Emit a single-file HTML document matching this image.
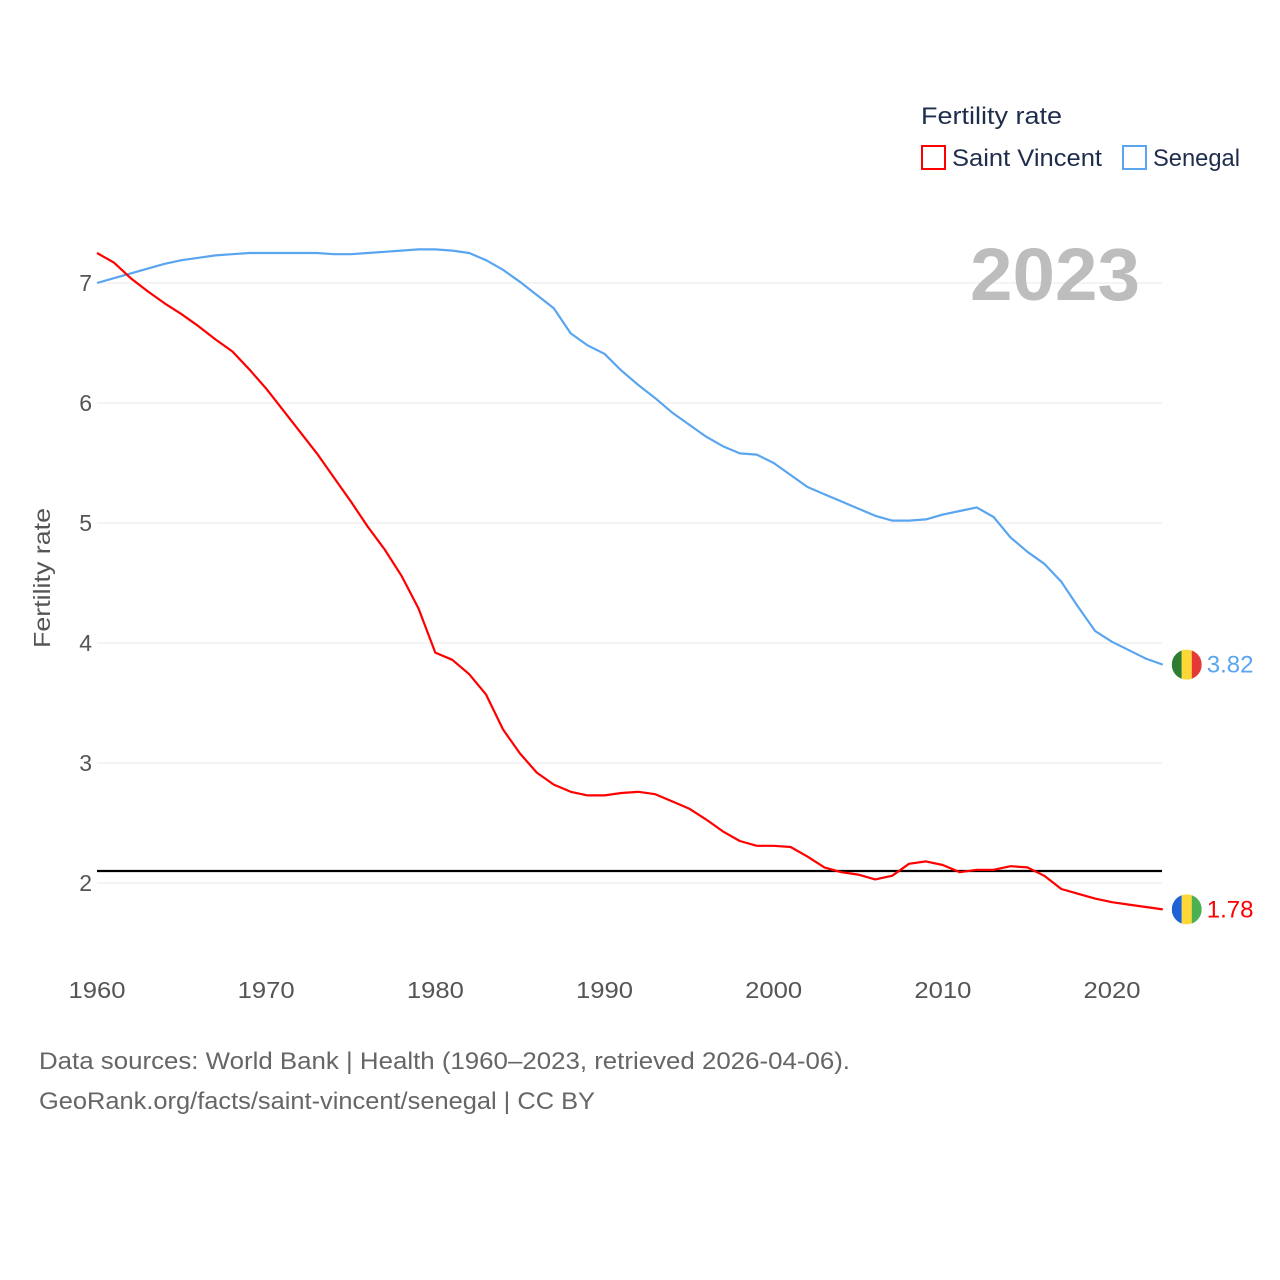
<!DOCTYPE html>
<html><head><meta charset="utf-8">
<style>
html,body{margin:0;padding:0;background:#fff;}
svg{display:block;font-family:"Liberation Sans",sans-serif;}
</style></head>
<body>
<svg id="chart" width="1280" height="1280" viewBox="0 0 1280 1280" xmlns="http://www.w3.org/2000/svg">
  <g id="grid"></g>
  <g id="yticks"></g>
  <g id="xticks"></g>
  <text x="0" y="0" transform="translate(50,578) rotate(-90)" text-anchor="middle" font-size="23" fill="#555" textLength="140" lengthAdjust="spacingAndGlyphs">Fertility rate</text>
  <text x="1140" y="300" text-anchor="end" font-size="74" font-weight="bold" fill="#bdbdbd" textLength="170" lengthAdjust="spacingAndGlyphs">2023</text>
  <g id="series"></g>
  <g>
    <text x="921" y="124" font-size="24" fill="#1f2d4d" textLength="141" lengthAdjust="spacingAndGlyphs">Fertility rate</text>
    <g>
      <rect x="922" y="146" width="23" height="23" fill="none" stroke="#ff0000" stroke-width="2"/>
      <text x="952" y="166" font-size="24" fill="#1f2d4d" textLength="150" lengthAdjust="spacingAndGlyphs">Saint Vincent</text>
    </g>
    <g>
      <rect x="1123" y="146" width="23" height="23" fill="none" stroke="#5aa5ef" stroke-width="2"/>
      <text x="1153" y="166" font-size="24" fill="#1f2d4d" textLength="87" lengthAdjust="spacingAndGlyphs">Senegal</text>
    </g>
  </g>
  <text x="39" y="1069" font-size="24" fill="#666" textLength="811" lengthAdjust="spacingAndGlyphs">Data sources: World Bank | Health (1960–2023, retrieved 2026-04-06).</text>
  <text x="39" y="1109" font-size="24" fill="#666" textLength="556" lengthAdjust="spacingAndGlyphs">GeoRank.org/facts/saint-vincent/senegal | CC BY</text>
</svg>
<script>
const years = [];
for (let y = 1960; y <= 2023; y++) years.push(y);
const saintVincent = [7.25,7.17,7.04,6.93,6.83,6.74,6.64,6.53,6.43,6.28,6.12,5.94,5.76,5.58,5.38,5.18,4.97,4.78,4.56,4.29,3.92,3.86,3.74,3.57,3.28,3.08,2.92,2.82,2.76,2.73,2.73,2.75,2.76,2.74,2.68,2.62,2.53,2.43,2.35,2.31,2.31,2.30,2.22,2.13,2.09,2.07,2.03,2.06,2.16,2.18,2.15,2.09,2.11,2.11,2.14,2.13,2.06,1.95,1.91,1.87,1.84,1.82,1.80,1.78];
const senegal = [7.00,7.04,7.08,7.12,7.16,7.19,7.21,7.23,7.24,7.25,7.25,7.25,7.25,7.25,7.24,7.24,7.25,7.26,7.27,7.28,7.28,7.27,7.25,7.19,7.11,7.01,6.90,6.79,6.58,6.48,6.41,6.27,6.15,6.04,5.92,5.82,5.72,5.64,5.58,5.57,5.50,5.40,5.30,5.24,5.18,5.12,5.06,5.02,5.02,5.03,5.07,5.10,5.13,5.05,4.88,4.76,4.66,4.51,4.30,4.10,4.01,3.94,3.87,3.82];
const yTickValues = [2,3,4,5,6,7];
const xTickValues = [1960,1970,1980,1990,2000,2010,2020];
const replacementLevel = [2.1];

const NS = "http://www.w3.org/2000/svg";
function xs(yr){ return 97 + (yr - 1960) * (1015/60); }
function ys(v){ return 283 + (7 - v) * 120; }
function mk(tag, attrs, parent){ const e=document.createElementNS(NS,tag); for(const k in attrs) e.setAttribute(k,attrs[k]); parent.appendChild(e); return e; }

const grid=document.getElementById('grid'), yt=document.getElementById('yticks'), xt=document.getElementById('xticks'), ser=document.getElementById('series');
yTickValues.forEach(v=>{
  const l=mk('line',{x1:97,x2:1162,y1:ys(v),y2:ys(v),stroke:'#e8e8e8','stroke-width':1},grid);
  
  
  const t=mk('text',{x:92,y:ys(v)+8,'text-anchor':'end','font-size':23,fill:'#555'},yt);
  t.textContent=v;
  
  
});
xTickValues.forEach(v=>{
  const t=mk('text',{x:xs(v),y:998,'text-anchor':'middle','font-size':23,fill:'#555',textLength:57,lengthAdjust:'spacingAndGlyphs'},xt);
  t.textContent=v;
  
  
});
const ref=mk('line',{x1:97,x2:1162,y1:ys(replacementLevel[0]),y2:ys(replacementLevel[0]),stroke:'#000','stroke-width':2.2},ser);



function drawSeries(vals,color,name,flag){
  const d=vals.map((v,i)=>(i?'L':'M')+xs(years[i]).toFixed(1)+','+ys(v).toFixed(1)).join(' ');
  const p=mk('path',{d:d,fill:'none',stroke:color,'stroke-width':2.2,'stroke-linejoin':'round'},ser);
  
  
  const last=vals[vals.length-1], lx=xs(years[years.length-1])+24, ly=ys(last);
  const g=mk('g',{},ser);
  
  
  const cpth=mk('clipPath',{id:'c-'+name},g);
  mk('circle',{cx:lx,cy:ly,r:15},cpth);
  const fg=mk('g',{'clip-path':'url(#c-'+name+')'},g);
  mk('rect',{x:lx-15,y:ly-15,width:10,height:30,fill:flag[0]},fg);
  mk('rect',{x:lx-5,y:ly-15,width:10,height:30,fill:flag[1]},fg);
  mk('rect',{x:lx+5,y:ly-15,width:10,height:30,fill:flag[2]},fg);
  const lab=mk('text',{x:lx+20,y:ly+8,'font-size':24,fill:color},ser);
  lab.textContent=last.toFixed(2);
  
  
}
drawSeries(senegal,'#5aa5ef','senegal',['#2e7d32','#fdd835','#e53935']);
drawSeries(saintVincent,'#ff0000','saint-vincent',['#1e63d6','#fdd835','#4caf50']);
</script>
</body></html>
